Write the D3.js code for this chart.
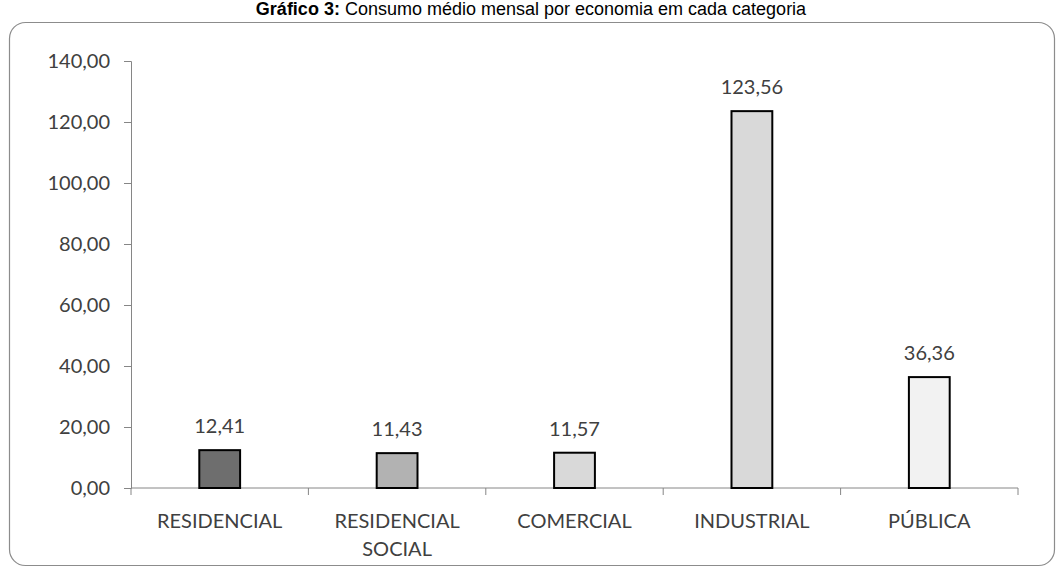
<!DOCTYPE html>
<html>
<head>
<meta charset="utf-8">
<script src="https://cdn.jsdelivr.net/npm/d3@7"></script>
<style>
  body { margin: 0; background: #fff; }
  svg text { font-family: Lato, "Open Sans", sans-serif; fill: #404040; }
</style>
</head>
<body>
<div class="vis1"></div>
<script>
// frame dimensions
const FRAME_WIDTH = 1063;
const FRAME_HEIGHT = 568;
const MARGINS = {left: 131, top: 61};
const VIS_WIDTH = 887;
const VIS_HEIGHT = 427;
const LABEL_SIZE = '20px';

// data
const categories = ["RESIDENCIAL", "RESIDENCIAL SOCIAL", "COMERCIAL", "INDUSTRIAL", "PÚBLICA"];
const consumo = [12.41, 11.43, 11.57, 123.56, 36.36];
const yTicks = [0, 20, 40, 60, 80, 100, 120, 140];
const barColors = ["#6e6e6e", "#b2b2b2", "#d9d9d9", "#d9d9d9", "#f2f2f2"];

const data = categories.map((c, i) => ({cat: c, val: consumo[i], color: barColors[i]}));

const fmt = (v) => d3.format(".2f")(v).replace(".", ",");

const FRAME1 = d3.select('.vis1')
  .append('svg')
    .attr('width', FRAME_WIDTH)
    .attr('height', FRAME_HEIGHT);

// outer rounded border
FRAME1.append('rect')
  .attr('x', 9.5)
  .attr('y', 22.5)
  .attr('width', 1045)
  .attr('height', 543)
  .attr('rx', 16)
  .attr('fill', 'none')
  .attr('stroke', '#8c8c8c')
  .attr('stroke-width', 1.2);

// title
const title = FRAME1.append('text')
  .attr('x', 531)
  .attr('y', 15)
  .attr('text-anchor', 'middle')
  .style('font-family', '"Liberation Sans", Arial, sans-serif')
  .style('font-size', '18px')
  .style('fill', '#000');
title.append('tspan').style('font-weight', 'bold').text('Gráfico 3:');
title.append('tspan').text(' Consumo médio mensal por economia em cada categoria');

// scales
const xscale = d3.scaleBand()
  .domain(categories)
  .range([0, VIS_WIDTH])
  .paddingInner(0.77)
  .paddingOuter(0.385);

const yscale = d3.scaleLinear()
  .domain([0, 140])
  .range([VIS_HEIGHT, 0]);

const g = FRAME1.append('g')
  .attr('transform', 'translate(' + MARGINS.left + ',' + MARGINS.top + ')');

// y axis
const yAxis = g.append('g')
  .call(d3.axisLeft(yscale).tickValues(yTicks).tickFormat(fmt).tickSize(7).tickPadding(14));
yAxis.selectAll('text').style('font-size', LABEL_SIZE).style('fill', '#404040');
yAxis.selectAll('line, path').attr('stroke', '#868686');

// x axis with category boundary ticks
const xAxisG = g.append('g').attr('transform', 'translate(0,' + VIS_HEIGHT + ')');
xAxisG.append('line')
  .attr('x1', 0).attr('x2', VIS_WIDTH)
  .attr('stroke', '#868686');
const bounds = d3.range(categories.length + 1).map((i) => i * xscale.step());
xAxisG.selectAll('.btick')
  .data(bounds)
  .enter().append('line')
  .attr('x1', (d) => d).attr('x2', (d) => d)
  .attr('y1', 0).attr('y2', 7)
  .attr('stroke', '#868686');

// x labels (wrapped)
const xl = xAxisG.selectAll('.xlab')
  .data(categories)
  .enter().append('text')
  .attr('text-anchor', 'middle')
  .style('font-size', LABEL_SIZE);
xl.each(function(d) {
  const words = d === "RESIDENCIAL SOCIAL" ? ["RESIDENCIAL", "SOCIAL"] : [d];
  const cx = xscale(d) + xscale.bandwidth() / 2;
  words.forEach((w, i) => {
    d3.select(this).append('tspan')
      .attr('x', cx)
      .attr('y', 40 + i * 28)
      .text(w);
  });
});

// bars
g.selectAll('.bar')
  .data(data)
  .enter().append('rect')
  .attr('x', (d) => xscale(d.cat))
  .attr('y', (d) => yscale(d.val))
  .attr('width', xscale.bandwidth())
  .attr('height', (d) => VIS_HEIGHT - yscale(d.val))
  .attr('fill', (d) => d.color)
  .attr('stroke', '#000')
  .attr('stroke-width', 2);

// value labels
g.selectAll('.vlab')
  .data(data)
  .enter().append('text')
  .attr('x', (d) => xscale(d.cat) + xscale.bandwidth() / 2)
  .attr('y', (d) => yscale(d.val) - 17)
  .attr('text-anchor', 'middle')
  .style('font-size', LABEL_SIZE)
  .text((d) => fmt(d.val));
</script>
</body>
</html>
